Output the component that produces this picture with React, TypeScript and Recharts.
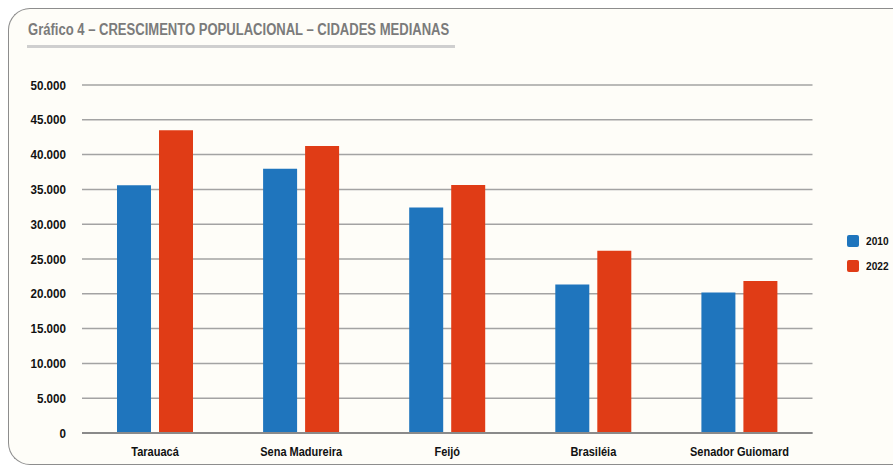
import React from 'react';
import { BarChart, Bar, XAxis, YAxis, CartesianGrid } from 'recharts';

const cities = ['Tarauacá', 'Sena Madureira', 'Feijó', 'Brasiléia', 'Senador Guiomard'];
const pop2010 = [35600, 37950, 32400, 21350, 20200];
const pop2022 = [43500, 41250, 35650, 26200, 21850];
const yTicks = [0, 5000, 10000, 15000, 20000, 25000, 30000, 35000, 40000, 45000, 50000];
const seriesLabels = ['2010', '2022'];

const data = cities.map((name, i) => ({ name, y2010: pop2010[i], y2022: pop2022[i] }));

const FONT = '"Liberation Sans", Arial, sans-serif';
const BLUE = '#1f75bd';
const RED = '#e03c16';
const COLORS = [BLUE, RED];

const fmt = (v: number) => (v === 0 ? '0' : v.toLocaleString('pt-BR'));

// narrow bold text, squeezed horizontally like a condensed face
const XTick = (props: any) => {
  const { x, y, payload } = props;
  return (
    <text
      transform={`translate(${x},${y + 15}) scale(0.88,1)`}
      textAnchor="middle"
      fontFamily={FONT}
      fontWeight={700}
      fontSize={12.5}
      fill="#111"
    >
      {payload.value}
    </text>
  );
};

const YTick = (props: any) => {
  const { x, y, payload } = props;
  return (
    <text
      transform={`translate(${x},${y + 4.5}) scale(0.93,1)`}
      textAnchor="end"
      fontFamily={FONT}
      fontWeight={700}
      fontSize={12.5}
      fill="#111"
    >
      {fmt(payload.value)}
    </text>
  );
};

export default function App() {
  return (
    <>
      <style>{'html,body{margin:0;overflow:hidden}'}</style>
      <div
        style={{
          position: 'relative',
          margin: '8px 0 0 8px',
          width: 884,
          height: 455,
          borderTop: '1.5px solid #8d8d8d',
          borderLeft: '1.5px solid #8d8d8d',
          borderBottom: '1.5px solid #8d8d8d',
          borderTopLeftRadius: 22,
          borderBottomLeftRadius: 22,
          background: '#fefdf8',
          overflow: 'hidden',
        }}
      >
        <div
          style={{
            position: 'absolute',
            left: 18.5,
            top: 11.5,
            fontFamily: FONT,
            fontWeight: 700,
            fontSize: 16,
            color: '#7b7b7b',
            whiteSpace: 'nowrap',
            transform: 'scaleX(0.815)',
            transformOrigin: 'left top',
          }}
        >
          Gráfico 4 – CRESCIMENTO POPULACIONAL – CIDADES MEDIANAS
        </div>
        <div style={{ position: 'absolute', left: 17.5, top: 36, width: 428, height: 3, background: '#cfcfcf' }} />
        <div style={{ position: 'absolute', left: 0, top: 0 }}>
          <BarChart
            width={884}
            height={454}
            data={data}
            margin={{ top: 76, right: 80.5, bottom: 0, left: 0 }}
            barSize={34}
            barGap={8}
          >
            <CartesianGrid vertical={false} stroke="#a3a3a3" strokeWidth={1.5} />
            <XAxis
              dataKey="name"
              height={30}
              tickLine={false}
              axisLine={{ stroke: '#8a8a8a', strokeWidth: 2 }}
              tick={<XTick />}
              interval={0}
            />
            <YAxis
              width={73}
              domain={[0, 50000]}
              ticks={yTicks}
              tickLine={false}
              axisLine={false}
              tick={<YTick />}
              tickMargin={10}
            />
            <Bar dataKey="y2010" name="2010" fill={BLUE} isAnimationActive={false} />
            <Bar dataKey="y2022" name="2022" fill={RED} isAnimationActive={false} />
          </BarChart>
        </div>
        <div
          style={{
            position: 'absolute',
            left: 837.5,
            top: 219,
            fontFamily: FONT,
            fontWeight: 700,
            fontSize: 11,
            color: '#111',
          }}
        >
          {seriesLabels.map((label, i) => (
            <div key={label} style={{ display: 'flex', alignItems: 'center', height: 25 }}>
              <span
                style={{
                  width: 12,
                  height: 12,
                  background: COLORS[i],
                  borderRadius: 2,
                  marginRight: 7,
                  display: 'inline-block',
                }}
              />
              <span style={{ display: 'inline-block', transform: 'scaleX(0.92)', transformOrigin: 'left' }}>{label}</span>
            </div>
          ))}
        </div>
      </div>
    </>
  );
}
